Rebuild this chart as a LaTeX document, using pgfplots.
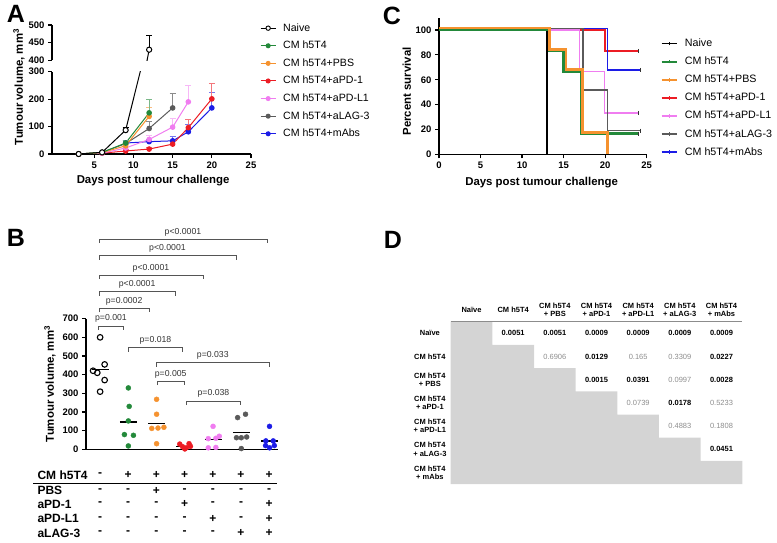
\documentclass[border=0pt]{standalone}
\usepackage{pgfplots}
\pgfplotsset{compat=1.18}
\usepackage{fontspec}
\setmainfont{Liberation Sans}

\definecolor{cgreen}{HTML}{23893A}
\definecolor{corange}{HTML}{F5922F}
\definecolor{cred}{HTML}{EC1C24}
\definecolor{cpink}{HTML}{F07DF0}
\definecolor{cgrey}{HTML}{5A5A5A}
\definecolor{cblue}{HTML}{1C1CE6}
\definecolor{cell}{HTML}{D4D4D4}
\definecolor{nsgrey}{HTML}{8C8C8C}
\definecolor{brk}{HTML}{555555}

\newcommand\panelfont{\fontsize{25}{25}\selectfont\bfseries}
\newcommand\rowfont{\fontsize{12}{13}\selectfont\bfseries}
\newcommand\pfont{\fontsize{8.7}{9}\selectfont}
\newcommand\dfont{\fontsize{7.5}{8.3}\selectfont}

\pgfplotsset{
  gp/.style={
    scale only axis, anchor=south west,
    axis lines=left, axis line style={-, line width=1.3pt},
    tick align=outside, major tick length=4pt,
    tick style={line width=1.2pt, black},
    tick label style={font=\fontsize{9.5}{10}\selectfont\bfseries},
    /pgf/number format/assume math mode=true,
    label style={font=\fontsize{11.4}{12}\selectfont\bfseries},
  },
  ebar/.style={error bars/.cd, y dir=plus, y explicit,
    error bar style={line width=1pt, #1},
    error mark options={rotate=90, mark size=3pt, line width=1pt, #1}},
}

\begin{document}
\begin{tikzpicture}
\path[use as bounding box] (0pt,0pt) rectangle (777pt,542pt);

% ---------------- panel A, upper part (400-500)
\begin{axis}[gp, at={(52pt,481.7pt)}, width=199pt, height=35.3pt,
  xmin=-0.4, xmax=25, ymin=400, ymax=500, ytick={400,450,500},
  axis x line=none]
\addplot[black, line width=1pt, mark=*, mark size=2.6pt,
  mark options={fill=white, line width=1pt}, ebar=black]
  table[x=x, y=y, y error=e] {
x y e
3 0 0
6 6 2
9 87 8
12 430 40
};
\end{axis}

% ---------------- panel A, lower part (0-300)
\begin{axis}[gp, at={(52pt,388pt)}, width=199pt, height=82.3pt,
  xmin=-0.4, xmax=25, ymin=0, ymax=300,
  xtick={5,10,15,20,25}, ytick={0,100,200,300},
  xlabel={Days post tumour challenge},
  xlabel style={at={(axis description cs:0.508,-0.328)}, anchor=center},
  ylabel={Tumour volume, mm\textsuperscript{3}},
  ylabel style={at={(axis description cs:-0.166,0.814)}, anchor=center},
  legend image code/.code={\draw[mark repeat=2,mark phase=2,#1] plot coordinates {(0pt,0pt) (7.5pt,0pt) (15pt,0pt)};},
  legend cell align=left,
  legend style={draw=none, fill=none, at={(1.045,1.592)}, anchor=north west,
    inner sep=0pt, row sep=7.6pt, column sep=7pt,
    font=\fontsize{10.6}{12}\selectfont,
    nodes={inner sep=0pt, text height=8pt, text depth=2pt}},
]
\addlegendimage{black, line width=1pt, mark=*, mark size=2.2pt, mark options={fill=white, line width=0.9pt}}
\addlegendentry{Naive}
\addlegendimage{cgreen, line width=1pt, mark=*, mark size=2pt}
\addlegendentry{CM h5T4}
\addlegendimage{corange, line width=1pt, mark=*, mark size=2pt}
\addlegendentry{CM h5T4+PBS}
\addlegendimage{cred, line width=1pt, mark=*, mark size=2pt}
\addlegendentry{CM h5T4+aPD-1}
\addlegendimage{cpink, line width=1pt, mark=*, mark size=2pt}
\addlegendentry{CM h5T4+aPD-L1}
\addlegendimage{cgrey, line width=1pt, mark=*, mark size=2pt}
\addlegendentry{CM h5T4+aLAG-3}
\addlegendimage{cblue, line width=1pt, mark=*, mark size=2pt}
\addlegendentry{CM h5T4+mAbs}

\addplot[forget plot, cblue, line width=1pt, mark=*, mark size=2.3pt, ebar=cblue!60]
  table[x=x, y=y, y error=e] {
x y e
9 40 10
12 45 8
15 48 17
17 81 25
20 168 56
};
\addplot[forget plot, cred, line width=1pt, mark=*, mark size=2.3pt, ebar=cred!60]
  table[x=x, y=y, y error=e] {
x y e
3 0 0
6 3 1
9 11 4
12 18 5
15 36 8
17 96 31
20 201 56
};
\addplot[forget plot, cpink, line width=1pt, mark=*, mark size=2.3pt, ebar=cpink!55]
  table[x=x, y=y, y error=e] {
x y e
3 0 0
6 3 1
9 22 5
12 53 16
15 98 32
17 190 61
};
\addplot[forget plot, cgrey, line width=1pt, mark=*, mark size=2.3pt, ebar=cgrey!70]
  table[x=x, y=y, y error=e] {
x y e
3 0 0
6 6 2
9 38 12
12 93 27
15 168 52
};
\addplot[forget plot, corange, line width=1pt, mark=*, mark size=2.3pt, ebar=corange!60]
  table[x=x, y=y, y error=e] {
x y e
3 0 0
6 5 2
9 30 6
12 137 32
};
\addplot[forget plot, cgreen, line width=1pt, mark=*, mark size=2.3pt, ebar=cgreen!60]
  table[x=x, y=y, y error=e] {
x y e
3 0 0
6 6 2
9 40 8
12 150 48
};
\addplot[forget plot, black, line width=1pt, mark=*, mark size=2.6pt,
  mark options={fill=white, line width=1pt}, ebar=black]
  table[x=x, y=y, y error=e] {
x y e
3 0 0
6 6 2
9 87 8
12 430 40
};
\end{axis}

% ---------------- panel C, survival
\begin{axis}[gp, at={(439pt,387.7pt)}, width=207.7pt, height=136.7pt,
  xmin=0, xmax=25, ymin=0, ymax=110,
  xtick={0,5,...,25}, ytick={0,20,...,100},
  xlabel={Days post tumour challenge},
  xlabel style={at={(axis description cs:0.494,-0.208)}, anchor=center},
  ylabel={Percent survival},
  ylabel style={at={(axis description cs:-0.1555,0.46)}, anchor=center},
  legend image code/.code={\draw[#1] (0pt,0pt) -- (15pt,0pt); \draw[#1, line width=0.8pt] (7.5pt,-1.8pt) -- (7.5pt,1.8pt);},
  legend cell align=left,
  legend style={draw=none, fill=none, at={(1.066,0.852)}, anchor=north west,
    inner sep=0pt, row sep=7.1pt, column sep=7.5pt,
    font=\fontsize{10.7}{12}\selectfont,
    nodes={inner sep=0pt, text height=8.5pt, text depth=2.5pt}},
]
\addlegendimage{black, line width=1.8pt}
\addlegendentry{Naive}
\addlegendimage{cgreen, line width=1.8pt}
\addlegendentry{CM h5T4}
\addlegendimage{corange, line width=1.8pt}
\addlegendentry{CM h5T4+PBS}
\addlegendimage{cred, line width=1.8pt}
\addlegendentry{CM h5T4+aPD-1}
\addlegendimage{cpink, line width=1.8pt}
\addlegendentry{CM h5T4+aPD-L1}
\addlegendimage{cgrey, line width=1.8pt}
\addlegendentry{CM h5T4+aLAG-3}
\addlegendimage{cblue, line width=1.8pt}
\addlegendentry{CM h5T4+mAbs}

\addplot[forget plot, black, line width=1.4pt] coordinates {(0,100) (13,100) (13,0)};
\addplot[forget plot, cred, line width=1.6pt] coordinates {(0,100) (20,100) (20,83.3) (24,83.3)};
\addplot[forget plot, cpink, line width=1.6pt] coordinates {(0,100) (16.9,100) (16.9,66.7) (19.9,66.7) (19.9,33.3) (24,33.3)};
\addplot[forget plot, cblue, line width=1.6pt] coordinates {(0,101.3) (20.3,101.3) (20.3,68) (24.3,68)};
\addplot[forget plot, cgrey, line width=1.6pt] coordinates {(0,101.3) (17.3,101.3) (17.3,51.7) (20.3,51.7) (20.3,19) (24.3,19)};
\addplot[forget plot, cgreen, line width=2.6pt] coordinates {(0,100.5) (13.3,100.5) (13.3,83.3) (15,83.3) (15,66.7) (17.1,66.7) (17.1,16.7) (24,16.7)};
\addplot[forget plot, corange, line width=2.6pt] coordinates {(0,101.5) (13.3,101.5) (13.3,84.5) (15.3,84.5) (15.3,68) (17.3,68) (17.3,17.7) (20.3,17.7) (20.3,0)};
\addplot[forget plot, only marks, mark=|, mark size=2pt, mark options={line width=0.9pt}, black!80]
  coordinates {(24,83.3) (24,33.3) (24.3,68) (24.3,19) (24,16.7)};
\end{axis}

% ---------------- panel B, tumour volumes per group
\begin{axis}[gp, at={(86pt,92.7pt)}, width=192pt, height=130.6pt,
  xmin=-0.5, xmax=6.3, ymin=0, ymax=700, ytick={0,100,...,700},
  xtick=\empty, clip=false,
  ylabel={Tumour volume, mm\textsuperscript{3}},
  ylabel style={at={(axis description cs:-0.1875,0.5)}, anchor=center},
]
\addplot[only marks, mark=o, mark size=2.8pt, mark options={line width=1.1pt}, black]
  coordinates {(0,600) (0.16,455) (-0.25,421) (-0.1,410) (0.16,371) (0,309)};
\addplot[only marks, mark=*, mark size=2.5pt, cgreen]
  coordinates {(1,329) (1.03,230) (1,152) (0.86,79) (1.18,75) (1,18)};
\addplot[only marks, mark=*, mark size=2.5pt, corange]
  coordinates {(2,268) (2,188) (1.83,112) (2.05,114) (2.26,118) (2,30)};
\addplot[only marks, mark=*, mark size=2.5pt, cred]
  coordinates {(2.82,28) (2.92,14) (3.05,8) (3.15,30) (3.2,16) (3,2)};
\addplot[only marks, mark=*, mark size=2.5pt, cpink]
  coordinates {(4,123) (3.83,57) (4.1,59) (4.22,70) (3.83,8) (4.1,10)};
\addplot[only marks, mark=*, mark size=2.5pt, cgrey]
  coordinates {(4.87,170) (5.15,188) (4.83,62) (5,62) (5.19,66) (5,4)};
\addplot[only marks, mark=*, mark size=2.5pt, cblue]
  coordinates {(6,123) (5.87,45) (6.13,45) (5.86,20) (6,8) (6.17,20)};
% group means
\addplot[black, line width=1.3pt] coordinates {(-0.3,428) (0.3,428)};
\addplot[black, line width=1.3pt] coordinates {(0.7,147) (1.3,147)};
\addplot[black, line width=1.3pt] coordinates {(1.7,137) (2.3,137)};
\addplot[black, line width=1.3pt] coordinates {(2.7,16) (3.3,16)};
\addplot[black, line width=1.3pt] coordinates {(3.7,54) (4.3,54)};
\addplot[black, line width=1.3pt] coordinates {(4.7,91) (5.3,91)};
\addplot[black, line width=1.3pt] coordinates {(5.7,45) (6.3,45)};
% significance brackets
\foreach \l/\r/\h/\t in {%
  -0.06/0.83/661/p=0.001,
  -0.04/1.74/756/p=0.0002,
  -0.04/2.66/845/p<0.0001,
  -0.04/3.64/934/p<0.0001,
  -0.04/4.81/1037/p<0.0001,
  -0.04/5.91/1127/p<0.0001,
  1.0/2.92/544/p=0.018,
  1.98/6.0/464/p=0.033,
  2.01/2.99/366/p=0.005,
  3.05/4.98/259/p=0.038}{%
  \edef\temp{\noexpand\addplot[brk, line width=0.7pt, forget plot] coordinates {(\l,\h-22) (\l,\h) (\r,\h) (\r,\h-22)};}
  \temp
  \edef\temp{\noexpand\node[font=\noexpand\pfont, text=black!80, anchor=south, inner sep=0.5pt, yshift=2.5pt] at (axis cs:{(\l+\r)/2},\h) {\t};}
  \temp
}
\end{axis}

% treatment table under B
\node[anchor=west, font=\rowfont] at (34pt,67pt) {CM h5T4};
\node[anchor=west, font=\rowfont] at (34pt,51.5pt) {PBS};
\node[anchor=west, font=\rowfont] at (34pt,38pt) {aPD-1};
\node[anchor=west, font=\rowfont] at (34pt,23.5pt) {aPD-L1};
\node[anchor=west, font=\rowfont] at (34pt,9pt) {aLAG-3};
\draw[line width=1.2pt] (33pt,58.7pt) -- (277pt,58.7pt);
\foreach \s [count=\i from 0] in {-,+,+,+,+,+,+}
  \node[font=\rowfont] at ({(100+28.2*\i)*1pt},67pt) {\s};
\foreach \s [count=\i from 0] in {-,-,+,-,-,-,-}
  \node[font=\rowfont] at ({(100+28.2*\i)*1pt},51.5pt) {\s};
\foreach \s [count=\i from 0] in {-,-,-,+,-,-,+}
  \node[font=\rowfont] at ({(100+28.2*\i)*1pt},38pt) {\s};
\foreach \s [count=\i from 0] in {-,-,-,-,+,-,+}
  \node[font=\rowfont] at ({(100+28.2*\i)*1pt},23.5pt) {\s};
\foreach \s [count=\i from 0] in {-,-,-,-,-,+,+}
  \node[font=\rowfont] at ({(100+28.2*\i)*1pt},9pt) {\s};

% ---------------- panel D, p-value matrix
\begin{axis}[scale only axis, anchor=south west, at={(450.7pt,57.9pt)},
  width=291.6pt, height=162.4pt, xmin=0, xmax=7, ymin=0, ymax=7,
  y dir=reverse, hide axis, clip=false]
\addplot[fill=cell, draw=none] coordinates {(0,0) (1,0) (1,1) (2,1) (2,2) (3,2) (3,3) (4,3) (4,4) (5,4) (5,5) (6,5) (6,6) (7,6) (7,7) (0,7)} -- cycle;
\addplot[draw=nsgrey, line width=1.5pt] coordinates {(0,0) (7,0)};
\foreach \t [count=\i from 0] in {Na\"ive,CM h5T4,CM h5T4\\+ PBS,CM h5T4\\+ aPD-1,CM h5T4\\+ aPD-L1,CM h5T4\\+ aLAG-3,CM h5T4\\+ mAbs}{%
  \edef\temp{\noexpand\node[font=\noexpand\dfont\noexpand\bfseries, align=center] at (axis cs:\i+0.5,-0.5) {\unexpanded\expandafter{\t}};}
  \temp
  \edef\temp{\noexpand\node[font=\noexpand\dfont\noexpand\bfseries, align=center] at (axis cs:-0.5,\i+0.5) {\unexpanded\expandafter{\t}};}
  \temp
}
\foreach \c/\r/\v/\s in {%
  1/0/0.0051/b, 2/0/0.0051/b, 3/0/0.0009/b, 4/0/0.0009/b, 5/0/0.0009/b, 6/0/0.0009/b,
  2/1/0.6906/n, 3/1/0.0129/b, 4/1/0.165/n, 5/1/0.3309/n, 6/1/0.0227/b,
  3/2/0.0015/b, 4/2/0.0391/b, 5/2/0.0997/n, 6/2/0.0028/b,
  4/3/0.0739/n, 5/3/0.0178/b, 6/3/0.5233/n,
  5/4/0.4883/n, 6/4/0.1808/n,
  6/5/0.0451/b}{%
  \if\s b
    \edef\temp{\noexpand\node[font=\noexpand\dfont\noexpand\bfseries] at (axis cs:\c+0.5,\r+0.5) {\v};}
  \else
    \edef\temp{\noexpand\node[font=\noexpand\dfont, text=nsgrey] at (axis cs:\c+0.5,\r+0.5) {\v};}
  \fi
  \temp
}
\end{axis}

% panel letters
\node[font=\panelfont] at (16pt,528pt) {A};
\node[font=\panelfont] at (392pt,526pt) {C};
\node[font=\panelfont] at (16pt,304pt) {B};
\node[font=\panelfont] at (393pt,302pt) {D};
\end{tikzpicture}
\end{document}
